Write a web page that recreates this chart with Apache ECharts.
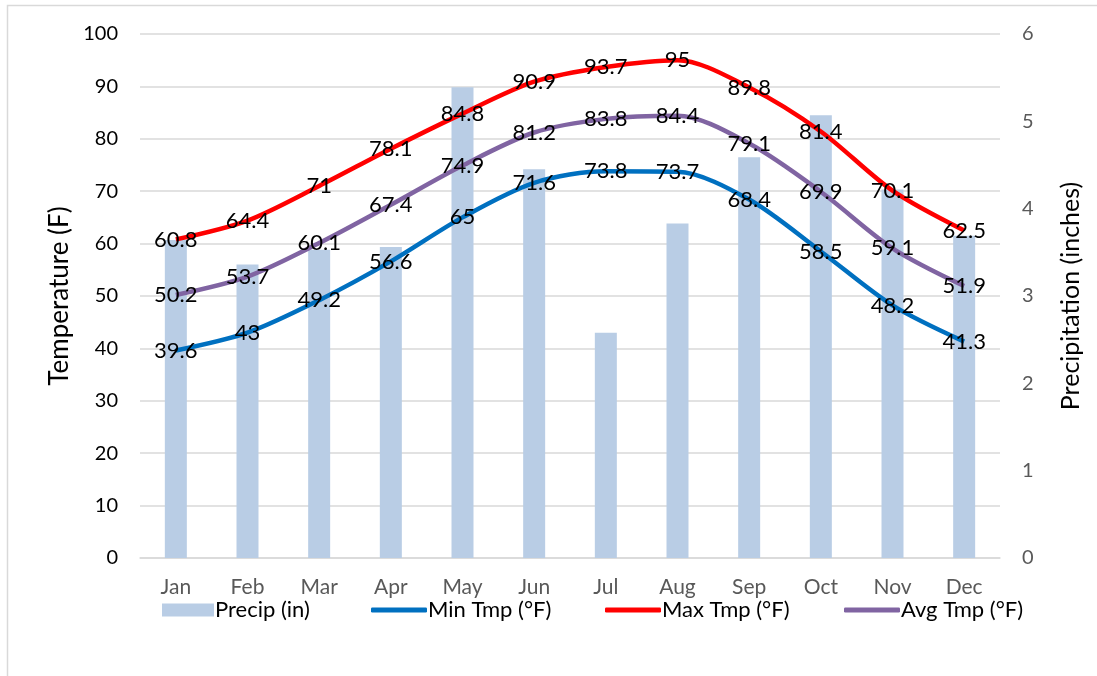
<!DOCTYPE html>
<html>
<head>
<meta charset="utf-8">
<script src="https://cdn.jsdelivr.net/npm/echarts@6/dist/echarts.min.js"></script>
<style>
html,body{margin:0;padding:0;background:#fff;}
#chart{width:1097px;height:676px;}
</style>
</head>
<body>
<div id="chart"></div>
<script>
const months = ['Jan','Feb','Mar','Apr','May','Jun','Jul','Aug','Sep','Oct','Nov','Dec'];
const precip = [3.64, 3.36, 3.53, 3.56, 5.39, 4.45, 2.58, 3.83, 4.59, 5.07, 4.22, 3.69];
const minTmp = [39.6, 43, 49.2, 56.6, 65, 71.6, 73.8, 73.7, 68.4, 58.5, 48.2, 41.3];
const maxTmp = [60.8, 64.4, 71, 78.1, 84.8, 90.9, 93.7, 95, 89.8, 81.4, 70.1, 62.5];
const avgTmp = [50.2, 53.7, 60.1, 67.4, 74.9, 81.2, 83.8, 84.4, 79.1, 69.9, 59.1, 51.9];

const FONT = 'Lato, "Noto Sans", sans-serif';
const chart = echarts.init(document.getElementById('chart'), null, {renderer:'canvas'});

function lineSeries(name, data, color){
  return {
    name: name, type: 'line', data: data, smooth: 0.3, yAxisIndex: 0,
    symbol: 'circle', symbolSize: 0.1, showSymbol: true,
    itemStyle: {color: color},
    lineStyle: {color: color, width: 4.5},
    label: {show: true, position: 'inside', color: '#000', fontFamily: FONT, fontSize: 22},
    emphasis: {disabled: true}, z: 3
  };
}

const legText = {fontFamily: FONT, fontSize: 22, color: '#000', padding: [0,0,0,-4]};
function leg(name, left, w, h, icon){
  return {data: [name], left: left, top: 594, itemWidth: w, itemHeight: h, icon: icon, textStyle: legText};
}

chart.setOption({
  animation: false,
  backgroundColor: '#fff',
  graphic: [{
    type: 'rect', shape: {x: 7.5, y: 5.5, width: 1200, height: 1000},
    style: {fill: 'none', stroke: '#d9d9d9', lineWidth: 1.5}, silent: true, z: -1
  }],
  grid: {left: 140, right: 97, top: 34, bottom: 118, containLabel: false},
  legend: [
    leg('Precip (in)', 157, 52, 13, 'rect'),
    leg('Min Tmp (°F)', 366, 56, 5, 'roundRect'),
    leg('Max Tmp (°F)', 600, 56, 5, 'roundRect'),
    leg('Avg Tmp (°F)', 839, 56, 5, 'roundRect')
  ],
  xAxis: {
    type: 'category', data: months,
    axisLine: {show: true, lineStyle: {color: '#d9d9d9', width: 1.5}},
    axisTick: {show: false},
    axisLabel: {color: '#595959', fontFamily: FONT, fontSize: 21, margin: 19}
  },
  yAxis: [{
    type: 'value', min: 0, max: 100, interval: 10,
    name: 'Temperature (F)', nameLocation: 'middle', nameGap: 66, nameRotate: 90,
    nameTextStyle: {fontFamily: FONT, fontSize: 26, color: '#000'},
    axisLine: {show: false}, axisTick: {show: false},
    axisLabel: {color: '#000', fontFamily: FONT, fontSize: 20, margin: 22},
    splitLine: {show: true, lineStyle: {color: '#d9d9d9', width: 1.5}}
  },{
    type: 'value', min: 0, max: 6, interval: 1, position: 'right',
    name: 'Precipitation (inches)', nameLocation: 'middle', nameGap: 58, nameRotate: 90,
    nameTextStyle: {fontFamily: FONT, fontSize: 25, color: '#000'},
    axisLine: {show: false}, axisTick: {show: false},
    axisLabel: {color: '#595959', fontFamily: FONT, fontSize: 20, margin: 22},
    splitLine: {show: false}
  }],
  series: [
    {name: 'Precip (in)', type: 'bar', yAxisIndex: 1, data: precip, barWidth: 22,
     itemStyle: {color: '#b9cde5'}, emphasis: {disabled: true}, z: 1},
    lineSeries('Min Tmp (°F)', minTmp, '#0070c0'),
    lineSeries('Max Tmp (°F)', maxTmp, '#ff0000'),
    lineSeries('Avg Tmp (°F)', avgTmp, '#8064a2')
  ]
});
</script>
</body>
</html>
